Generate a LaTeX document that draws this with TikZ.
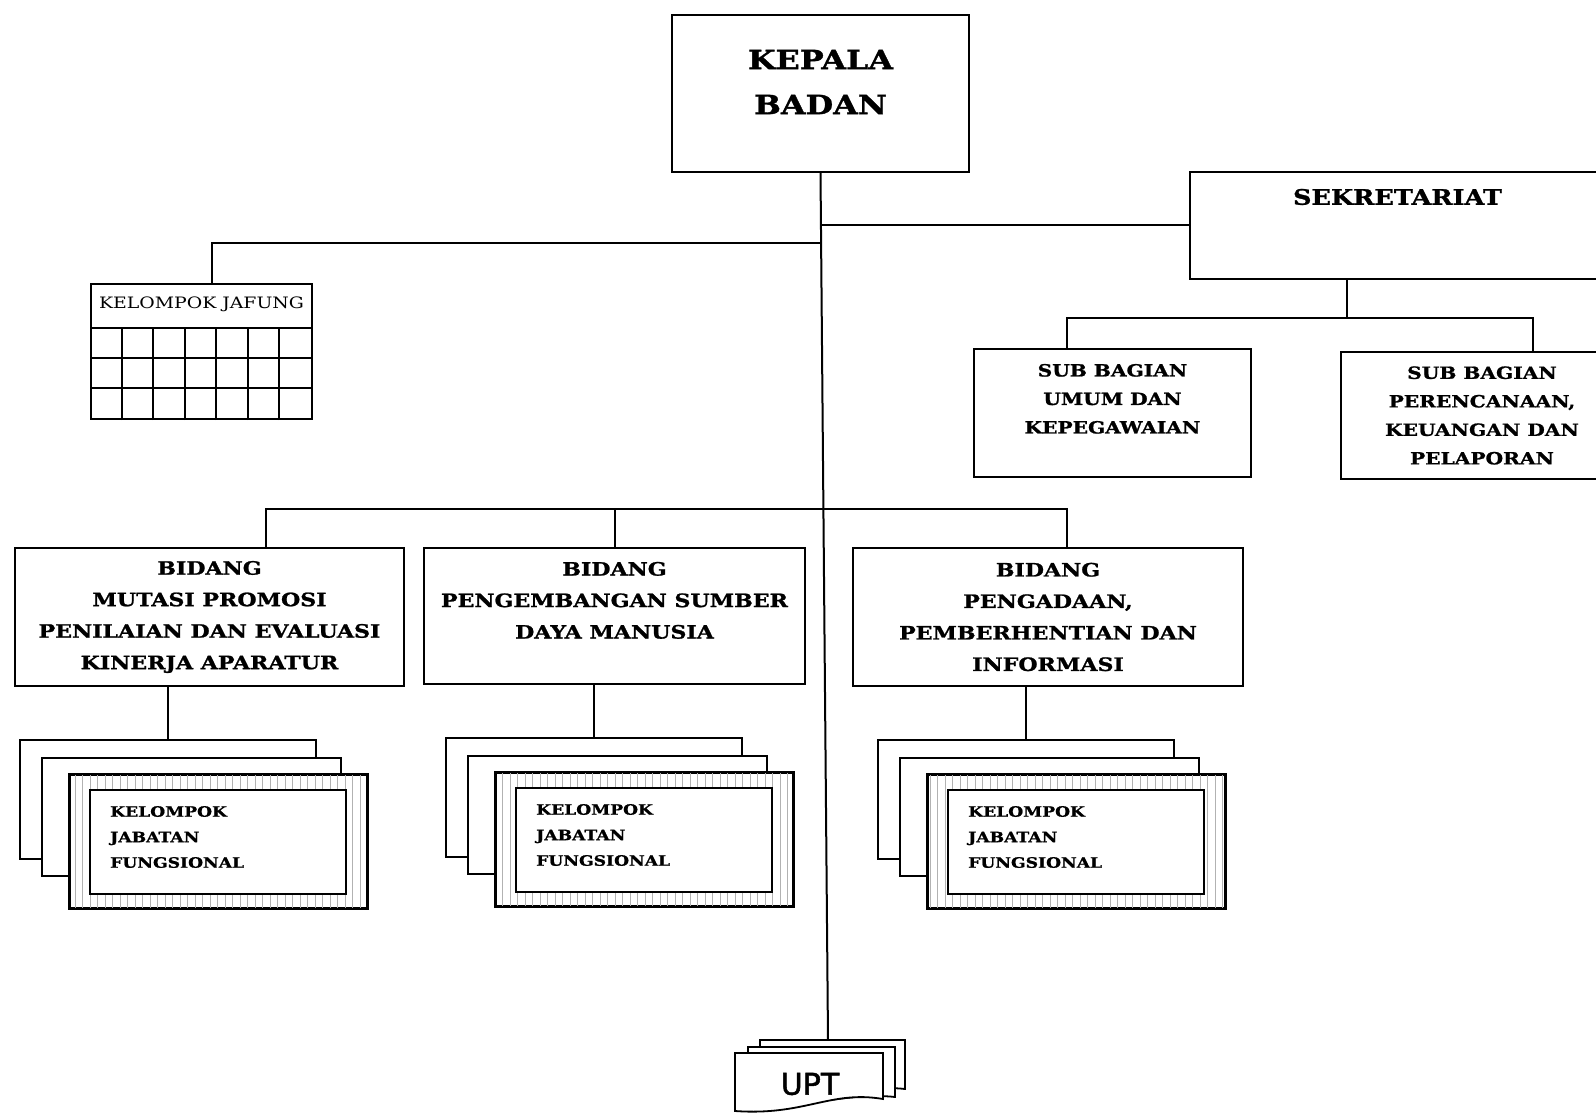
\documentclass[tikz,border=0pt]{standalone}
\usepackage{fontspec}
\setmainfont{DejaVu Serif}[FakeStretch=1.2, BoldFeatures={FakeBold=1.2}]
\setsansfont{DejaVu Sans}
\newfontfamily\uptfont{DejaVu Sans}[FakeBold=1.6]
\usetikzlibrary{positioning}

\tikzset{
  box/.style={draw, line width=2pt, inner sep=0pt, align=center, anchor=north west, fill=white},
  page/.style={draw, line width=1.8pt, fill=white, anchor=north west, inner sep=0pt},
  conn/.style={line width=2pt},
  hatch/.style={step=7.5, gray!60, line width=0.8pt},
  bigtxt/.style={align=center, font=\bfseries\fontsize{26.5}{45}\selectfont},
  sektxt/.style={font=\bfseries\fontsize{21.3}{24}\selectfont},
  jftxt/.style={font=\fontsize{15.7}{19}\selectfont},
  subtxt/.style={font=\bfseries\fontsize{16.8}{28.5}\selectfont},
  bidtxt/.style={font=\bfseries\fontsize{18.4}{31.5}\selectfont},
  kjftxt/.style={align=left, inner sep=0pt, font=\bfseries\fontsize{14.3}{25.5}\selectfont},
}

\begin{document}
\begin{tikzpicture}[x=1pt,y=-1pt]
\fill[white] (0,0) rectangle (1596,1115);
\useasboundingbox (0,0) rectangle (1596,1115);

% top
\node[box, minimum width=297, minimum height=157,
  label={[bigtxt, yshift=11.5pt]center:KEPALA\\BADAN}] (kepala) at (671,14) {};
\node[box, minimum width=415, minimum height=107,
  label={[sektxt, yshift=28.5pt]center:SEKRETARIAT}] (sekr) at (1189,171) {};

% jafung
\node[box, minimum width=221, minimum height=135,
  label={[jftxt, yshift=47.5pt]center:KELOMPOK JAFUNG}] (jafung) at (90,283) {};
\foreach \r in {45,75,105}
  \draw[conn] ([yshift=-\r]jafung.north west) -- ([yshift=-\r]jafung.north east);
\foreach \c in {1,...,6}
  \draw[conn] ([xshift=\c*31.57]jafung.south west) -- ([xshift=\c*31.57, yshift=-45]jafung.north west);

% sub bagian
\node[box, subtxt, minimum width=277, minimum height=128] (sub1) at (973,348) {SUB BAGIAN\\UMUM DAN\\KEPEGAWAIAN\\\mbox{}};
\node[box, subtxt, minimum width=282, minimum height=127] (sub2) at (1340,351) {SUB BAGIAN\\PERENCANAAN,\\KEUANGAN DAN\\PELAPORAN};

% bidang
\node[box, bidtxt, minimum width=389, minimum height=138] (bid1) at (14,547) {BIDANG\\MUTASI PROMOSI\\PENILAIAN DAN EVALUASI\\KINERJA APARATUR};
\node[box, bidtxt, minimum width=381, minimum height=136] (bid2) at (423,547) {BIDANG\\PENGEMBANGAN SUMBER\\DAYA MANUSIA\\\mbox{}};
\node[box, bidtxt, minimum width=390, minimum height=138] (bid3) at (852,547) {BIDANG\\PENGADAAN,\\PEMBERHENTIAN DAN\\INFORMASI};

% kelompok jabatan fungsional
\foreach \i/\dx/\dy in {1/0/0,2/426/-2,3/858/0}{
  \node[page, minimum width=296, minimum height=119] (jb\i) at (19+\dx,739+\dy) {};
  \node[page, minimum width=299, minimum height=118] (jm\i) at (41+\dx,757+\dy) {};
  \node[page, minimum width=297, minimum height=133] (jf\i) at (69+\dx,774+\dy) {};
  \begin{scope}
    \clip (jf\i.north west) rectangle (jf\i.south east);
    \draw[hatch] (jf\i.north west) grid (jf\i.south east);
  \end{scope}
  \draw[line width=1.8pt] (jf\i.north west) rectangle (jf\i.south east);
  \draw[page] ([shift={(21,16)}]jf\i.north west) rectangle ([shift={(-22,-15)}]jf\i.south east);
  \node[kjftxt, anchor=west] (kjt\i) at ([shift={(41,63)}]jf\i.north west) {KELOMPOK\\JABATAN\\FUNGSIONAL};
}

% upt
\coordinate (uptb) at (828,1040);
\draw[page] (760,1040) -- (905,1040) -- (905,1089) .. controls (860,1084) and (820,1100) .. (760,1098) -- cycle;
\draw[page] (748,1047) -- (895,1047) -- (895,1097) .. controls (850,1092) and (810,1108) .. (748,1105) -- cycle;
\draw[page] (735,1053) -- (883,1053) -- (883,1099) .. controls (830,1090) and (805,1116) .. (735,1111) -- cycle;
\node[font=\uptfont\fontsize{30}{30}\selectfont] (upt) at (810,1084) {UPT};

% lines
\draw[conn] (kepala.south) -- (uptb);
\draw[conn] (kepala.south |- sekr.west) -- (sekr.west);
\draw[conn] (kepala.south) ++(0,70) -| ([xshift=10.5]jafung.north);
\draw[conn] ([xshift=-50.5]sekr.south) -- ++(0,38) -| ([xshift=-45.5]sub1.north);
\draw[conn] ([xshift=-50.5]sekr.south) ++(0,38) -| ([xshift=51]sub2.north);
\draw[conn] ([xshift=56.5]bid1.north) -- ++(0,-38) -| ([xshift=19]bid3.north);
\draw[conn] (bid2.north) -- ++(0,-38);
\foreach \i in {1,2,3}
  \draw[conn] (jb\i.north) -- (jb\i.north |- bid\i.south);
\end{tikzpicture}
\end{document}
